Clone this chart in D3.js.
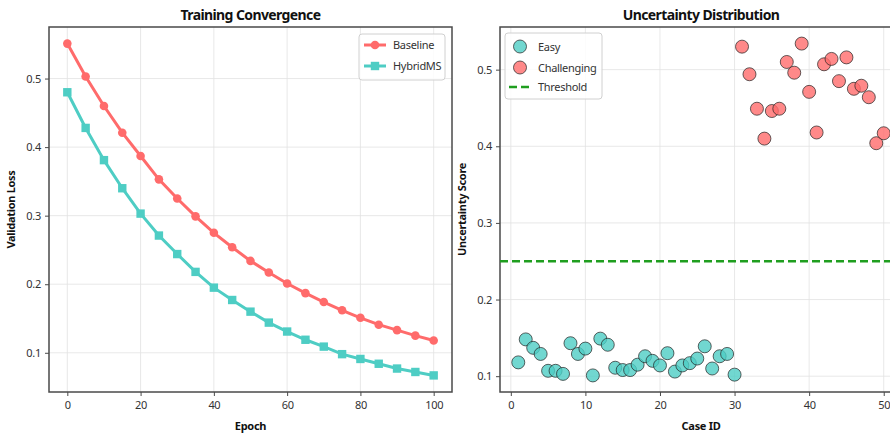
<!DOCTYPE html>
<html lang="en"><head><meta charset="utf-8">
<title>Training Convergence / Uncertainty Distribution</title>
<script src="https://cdn.jsdelivr.net/npm/d3@7"></script>
<style>
  body { margin: 0; background: #fff; }
  text { font-family: "Noto Sans", "Open Sans", sans-serif; }
</style>
</head>
<body>
<script>
// data
var epochs = [0, 5, 10, 15, 20, 25, 30, 35, 40, 45, 50, 55, 60, 65, 70, 75, 80, 85, 90, 95, 100];
var baselineLoss = [0.551, 0.503, 0.460, 0.421, 0.387, 0.353, 0.325, 0.299, 0.275, 0.254, 0.234,
                    0.217, 0.201, 0.187, 0.174, 0.162, 0.151, 0.141, 0.133, 0.125, 0.118];
var hybridLoss = [0.480, 0.428, 0.381, 0.340, 0.303, 0.271, 0.244, 0.218, 0.195, 0.177, 0.160,
                  0.144, 0.131, 0.119, 0.109, 0.098, 0.091, 0.084, 0.077, 0.072, 0.067];

var easyIds = d3.range(1, 31);
var easyScores = [0.118, 0.148, 0.137, 0.129, 0.107, 0.107, 0.103, 0.143, 0.129, 0.136,
                  0.101, 0.149, 0.141, 0.111, 0.108, 0.108, 0.115, 0.126, 0.120, 0.114,
                  0.130, 0.106, 0.114, 0.117, 0.123, 0.139, 0.110, 0.126, 0.129, 0.102];
var hardIds = d3.range(31, 51);
var hardScores = [0.530, 0.494, 0.449, 0.410, 0.446, 0.449, 0.510, 0.496, 0.534, 0.471,
                  0.418, 0.507, 0.514, 0.485, 0.516, 0.475, 0.479, 0.464, 0.404, 0.417];
var threshold = 0.25;

var lossTicks = [0.1, 0.2, 0.3, 0.4, 0.5];
var epochTicks = [0, 20, 40, 60, 80, 100];
var scoreTicks = [0.1, 0.2, 0.3, 0.4, 0.5];
var caseTicks = [0, 10, 20, 30, 40, 50];

var red = "#ff6b6b", teal = "#4ecdc4", green = "#1f9e1f";
var spineColor = "#4a4a4a";

var width = 890, height = 436;
var svg = d3.select("body").append("svg")
    .attr("width", width)
    .attr("height", height);
svg.append("rect").attr("width", width).attr("height", height).attr("fill", "#fff");

function pad(lo, hi) {
  var m = (hi - lo) * 0.05;
  return [lo - m, hi + m];
}

// draws frame, grid, ticks and labels for one panel
function panel(box, x, y, xTicks, yTicks, title, xLabel, yLabel) {
  var g = svg.append("g");
  var clipId = "clip" + Math.round(box.left);
  svg.append("clipPath").attr("id", clipId)
    .append("rect")
    .attr("x", box.left).attr("y", box.top)
    .attr("width", box.right - box.left).attr("height", box.bottom - box.top);

  var grid = g.append("g").attr("stroke", "#e2e2e2").attr("stroke-width", 0.8);
  grid.selectAll(".vx").data(xTicks).enter().append("line")
    .attr("x1", x).attr("x2", x)
    .attr("y1", box.top).attr("y2", box.bottom);
  grid.selectAll(".hy").data(yTicks).enter().append("line")
    .attr("x1", box.left).attr("x2", box.right)
    .attr("y1", y).attr("y2", y);

  var xAxis = g.append("g")
    .attr("transform", "translate(0," + box.bottom + ")")
    .call(d3.axisBottom(x).tickValues(xTicks).tickSize(4).tickPadding(5).tickFormat(d3.format("d")));
  var yAxis = g.append("g")
    .attr("transform", "translate(" + box.left + ",0)")
    .call(d3.axisLeft(y).tickValues(yTicks).tickSize(4).tickPadding(4).tickFormat(d3.format(".1f")));
  [xAxis, yAxis].forEach(function(a) {
    a.select(".domain").remove();
    a.selectAll("line").attr("stroke", spineColor);
    a.selectAll("text").attr("fill", "#333").attr("font-size", 11)
      .attr("letter-spacing", -0.3)
      .attr("font-family", "'Noto Sans', sans-serif");
  });

  g.append("rect")
    .attr("x", box.left).attr("y", box.top)
    .attr("width", box.right - box.left).attr("height", box.bottom - box.top)
    .attr("fill", "none").attr("stroke", spineColor).attr("stroke-width", 1.5);

  var cx = (box.left + box.right) / 2;
  svg.append("text")
    .attr("x", cx).attr("y", box.top - 7)
    .attr("text-anchor", "middle").attr("font-size", 14).attr("font-weight", "bold")
    .attr("letter-spacing", -0.6)
    .attr("fill", "#111").text(title);
  svg.append("text")
    .attr("x", cx).attr("y", 430)
    .attr("text-anchor", "middle").attr("font-size", 11).attr("font-weight", "bold")
    .attr("letter-spacing", -0.3)
    .attr("fill", "#111").text(xLabel);
  svg.append("text")
    .attr("transform", "translate(" + (box.left - 34) + "," + ((box.top + box.bottom) / 2) + ") rotate(-90)")
    .attr("text-anchor", "middle").attr("font-size", 11).attr("font-weight", "bold")
    .attr("letter-spacing", -0.3)
    .attr("fill", "#111").text(yLabel);
  return clipId;
}

// ---- left panel: training convergence
var boxL = {left: 49, right: 452, top: 27, bottom: 392};
var xL = d3.scaleLinear().domain(pad(0, 100)).range([boxL.left, boxL.right]);
var yL = d3.scaleLinear()
    .domain(pad(d3.min(hybridLoss), d3.max(baselineLoss)))
    .range([boxL.bottom, boxL.top]);
panel(boxL, xL, yL, epochTicks, lossTicks, "Training Convergence", "Epoch", "Validation Loss");

var line = d3.line().x(function(d) { return xL(d[0]); }).y(function(d) { return yL(d[1]); });
var baseData = d3.zip(epochs, baselineLoss);
var hybData = d3.zip(epochs, hybridLoss);

svg.append("path").datum(baseData)
  .attr("d", line).attr("fill", "none").attr("stroke", red).attr("stroke-width", 3);
svg.selectAll(".bm").data(baseData).enter().append("circle")
  .attr("cx", function(d) { return xL(d[0]); })
  .attr("cy", function(d) { return yL(d[1]); })
  .attr("r", 4.3).attr("fill", red);

svg.append("path").datum(hybData)
  .attr("d", line).attr("fill", "none").attr("stroke", teal).attr("stroke-width", 3);
svg.selectAll(".hm").data(hybData).enter().append("rect")
  .attr("x", function(d) { return xL(d[0]) - 4.2; })
  .attr("y", function(d) { return yL(d[1]) - 4.2; })
  .attr("width", 8.4).attr("height", 8.4).attr("fill", teal);

// legend (left)
var legL = svg.append("g").attr("transform", "translate(359,34)");
legL.append("rect").attr("width", 86).attr("height", 46).attr("rx", 3)
  .attr("fill", "#fff").attr("fill-opacity", 0.85).attr("stroke", "#d0d0d0");
legL.append("line").attr("x1", 5).attr("x2", 27).attr("y1", 11).attr("y2", 11)
  .attr("stroke", red).attr("stroke-width", 3);
legL.append("circle").attr("cx", 16).attr("cy", 11).attr("r", 4.3).attr("fill", red);
legL.append("line").attr("x1", 5).attr("x2", 27).attr("y1", 32).attr("y2", 32)
  .attr("stroke", teal).attr("stroke-width", 3);
legL.append("rect").attr("x", 11.8).attr("y", 27.8).attr("width", 8.4).attr("height", 8.4).attr("fill", teal);
legL.append("text").attr("x", 34).attr("y", 15).attr("font-size", 11).attr("letter-spacing", -0.3)
  .attr("fill", "#333").text("Baseline");
legL.append("text").attr("x", 34).attr("y", 36).attr("font-size", 11).attr("letter-spacing", -0.3)
  .attr("fill", "#333").text("HybridMS");

// ---- right panel: uncertainty distribution
var boxR = {left: 500, right: 902, top: 27, bottom: 392};
var xR = d3.scaleLinear().domain(pad(1, 50)).range([boxR.left, boxR.right]);
var yR = d3.scaleLinear()
    .domain(pad(d3.min(easyScores), d3.max(hardScores)))
    .range([boxR.bottom, boxR.top]);
var clipR = panel(boxR, xR, yR, caseTicks, scoreTicks, "Uncertainty Distribution", "Case ID", "Uncertainty Score");

var pts = svg.append("g").attr("clip-path", "url(#" + clipR + ")");
pts.selectAll(".easy").data(d3.zip(easyIds, easyScores)).enter().append("circle")
  .attr("cx", function(d) { return xR(d[0]); })
  .attr("cy", function(d) { return yR(d[1]); })
  .attr("r", 6.5).attr("fill", teal).attr("fill-opacity", 0.8)
  .attr("stroke", "#222").attr("stroke-opacity", 0.7).attr("stroke-width", 1);
pts.selectAll(".hard").data(d3.zip(hardIds, hardScores)).enter().append("circle")
  .attr("cx", function(d) { return xR(d[0]); })
  .attr("cy", function(d) { return yR(d[1]); })
  .attr("r", 6.5).attr("fill", red).attr("fill-opacity", 0.8)
  .attr("stroke", "#222").attr("stroke-opacity", 0.7).attr("stroke-width", 1);
pts.append("line")
  .attr("x1", boxR.left).attr("x2", boxR.right)
  .attr("y1", yR(threshold)).attr("y2", yR(threshold))
  .attr("stroke", green).attr("stroke-width", 2.5).attr("stroke-dasharray", "8,4");

// legend (right)
var legR = svg.append("g").attr("transform", "translate(505,33)");
legR.append("rect").attr("width", 97).attr("height", 66).attr("rx", 3)
  .attr("fill", "#fff").attr("fill-opacity", 0.85).attr("stroke", "#d0d0d0");
legR.append("circle").attr("cx", 15).attr("cy", 13.5).attr("r", 6.5)
  .attr("fill", teal).attr("fill-opacity", 0.8).attr("stroke", "#222").attr("stroke-opacity", 0.7);
legR.append("circle").attr("cx", 15).attr("cy", 34.5).attr("r", 6.5)
  .attr("fill", red).attr("fill-opacity", 0.8).attr("stroke", "#222").attr("stroke-opacity", 0.7);
legR.append("line").attr("x1", 4).attr("x2", 24).attr("y1", 54).attr("y2", 54)
  .attr("stroke", green).attr("stroke-width", 2.5).attr("stroke-dasharray", "8,4");
legR.append("text").attr("x", 33).attr("y", 17.5).attr("font-size", 11).attr("letter-spacing", -0.3)
  .attr("fill", "#333").text("Easy");
legR.append("text").attr("x", 33).attr("y", 38.5).attr("font-size", 11).attr("letter-spacing", -0.3)
  .attr("fill", "#333").text("Challenging");
legR.append("text").attr("x", 33).attr("y", 58).attr("font-size", 11).attr("letter-spacing", -0.3)
  .attr("fill", "#333").text("Threshold");
</script>
</body></html>
